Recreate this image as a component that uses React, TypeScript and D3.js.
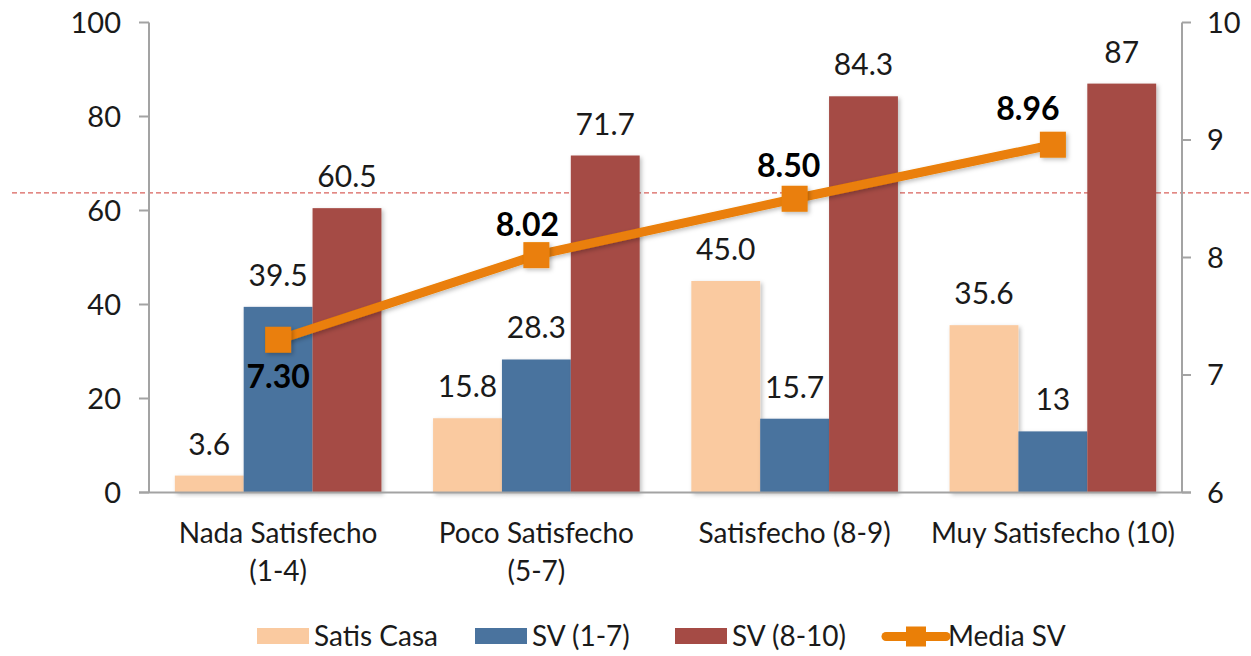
import React from "react";
import * as d3 from "d3";

const categories = [
  ["Nada Satisfecho", "(1-4)"],
  ["Poco Satisfecho", "(5-7)"],
  ["Satisfecho (8-9)"],
  ["Muy Satisfecho (10)"],
];
const seriesNames = ["Satis Casa", "SV (1-7)", "SV (8-10)"];
const satisCasa = [3.6, 15.8, 45.0, 35.6];
const sv17 = [39.5, 28.3, 15.7, 13];
const sv810 = [60.5, 71.7, 84.3, 87];
const mediaSV = [7.3, 8.02, 8.5, 8.96];
const lineName = "Media SV";
const leftTicks = [0, 20, 40, 60, 80, 100];
const rightTicks = [6, 7, 8, 9, 10];
const referenceValue = 8.55;

const COLORS = ["#FACAA0", "#4A739E", "#A54B45"];
const ORANGE = "#EA7F07";
const FONT = "Lato, 'Open Sans', sans-serif";

const W = 1251;
const H = 656;
const X0 = 149;
const X1 = 1182;
const Y0 = 492.5;
const Y1 = 22.5;

export default function App() {
  const keys = categories.map((_, i) => String(i));
  const x = d3.scaleBand<string>().domain(keys).range([X0, X1]).paddingInner(0.2).paddingOuter(0.1);
  const step = x.step();
  const xs = d3.scaleBand<string>().domain(seriesNames).range([0, x.bandwidth()]);
  const yL = d3.scaleLinear().domain([0, 100]).range([Y0, Y1]);
  const yR = d3.scaleLinear().domain([6, 10]).range([Y0, Y1]);
  const series = [satisCasa, sv17, sv810];
  const fmt = [d3.format(".1f"), (v: number) => String(v), (v: number) => String(v)];
  const center = (i: number) => X0 + step * (i + 0.5);
  const linePts: [number, number][] = mediaSV.map((v, i) => [center(i), yR(v)]);
  const lineGen = d3.line();
  const labelOff = [
    [0, 48],
    [-9, -19],
    [-6, -22],
    [-25, -25],
  ];
  const axisColor = "#A3A3A3";
  const txt = "#1a1a1a";

  const legendItems = [
    { x: 257, text: seriesNames[0], color: COLORS[0], tx: 314 },
    { x: 475, text: seriesNames[1], color: COLORS[1], tx: 532 },
    { x: 675, text: seriesNames[2], color: COLORS[2], tx: 732 },
  ];

  return (
    <svg
      width={W}
      height={H}
      style={{ position: "absolute", left: 0, top: 0, background: "#fff" }}
      fontFamily={FONT}
    >
      <defs>
        <filter id="sh" x="-20%" y="-20%" width="150%" height="150%">
          <feDropShadow dx="2" dy="2" stdDeviation="2" floodColor="#000" floodOpacity="0.25" />
        </filter>
      </defs>
      <rect width={W} height={H} fill="#fff" />

      <line x1={12} x2={W} y1={yR(referenceValue)} y2={yR(referenceValue)} stroke="#D9625C" strokeWidth={1.2} strokeDasharray="5,3" />

      {series.map((vals, s) =>
        vals.map((v, i) => {
          const bx = (x(String(i)) as number) + (xs(seriesNames[s]) as number);
          return (
            <rect
              key={`b${s}-${i}`}
              x={bx}
              y={yL(v)}
              width={xs.bandwidth()}
              height={Y0 - yL(v)}
              fill={COLORS[s]}
              filter="url(#sh)"
            />
          );
        })
      )}

      <line x1={X0} x2={X0} y1={Y1} y2={Y0} stroke={axisColor} strokeWidth={2} />
      <line x1={X1} x2={X1} y1={Y1} y2={Y0} stroke={axisColor} strokeWidth={2} />
      <line x1={X0 - 10} x2={X1 + 9} y1={Y0} y2={Y0} stroke={axisColor} strokeWidth={2} />
      {leftTicks.map((t) => (
        <g key={`lt${t}`}>
          <line x1={X0 - 10} x2={X0} y1={yL(t)} y2={yL(t)} stroke={axisColor} strokeWidth={2} />
          <text x={121} y={yL(t)} dy="0.36em" textAnchor="end" fontSize={29} fill={txt}>
            {t}
          </text>
        </g>
      ))}
      {rightTicks.map((t) => (
        <g key={`rt${t}`}>
          <line x1={X1} x2={X1 + 9} y1={yR(t)} y2={yR(t)} stroke={axisColor} strokeWidth={2} />
          <text x={1207} y={yR(t)} dy="0.36em" textAnchor="start" fontSize={29} fill={txt}>
            {t}
          </text>
        </g>
      ))}

      {categories.map((lines, i) => (
        <text key={`c${i}`} x={center(i)} y={543} textAnchor="middle" fontSize={28} fill={txt}>
          {lines.map((l, j) => (
            <tspan key={j} x={center(i)} dy={j === 0 ? 0 : 38}>
              {l}
            </tspan>
          ))}
        </text>
      ))}

      {series.map((vals, s) =>
        vals.map((v, i) => {
          const bx = (x(String(i)) as number) + (xs(seriesNames[s]) as number) + xs.bandwidth() / 2;
          return (
            <text key={`bl${s}-${i}`} x={bx} y={yL(v) - 21} textAnchor="middle" fontSize={30} fill={txt}>
              {fmt[s](v)}
            </text>
          );
        })
      )}

      <path d={lineGen(linePts) || ""} fill="none" stroke={ORANGE} strokeWidth={9} filter="url(#sh)" />
      {linePts.map(([px, py], i) => (
        <rect key={`m${i}`} x={px - 13} y={py - 13} width={26} height={26} fill={ORANGE} filter="url(#sh)" />
      ))}
      {linePts.map(([px, py], i) => (
        <text
          key={`ml${i}`}
          x={px + labelOff[i][0]}
          y={py + labelOff[i][1]}
          textAnchor="middle"
          fontSize={32}
          fontWeight="bold"
          fill="#000"
        >
          {d3.format(".2f")(mediaSV[i])}
        </text>
      ))}

      {legendItems.map((it) => (
        <g key={it.text}>
          <rect x={it.x} y={628} width={52} height={16} fill={it.color} />
          <text x={it.tx} y={636} dy="0.36em" fontSize={28} fill={txt}>
            {it.text}
          </text>
        </g>
      ))}
      <line x1={886} x2={946} y1={636.5} y2={636.5} stroke={ORANGE} strokeWidth={9} strokeLinecap="round" />
      <rect x={906} y={626.5} width={20} height={20} fill={ORANGE} />
      <text x={948} y={636} dy="0.36em" fontSize={28} fill={txt}>
        {lineName}
      </text>
    </svg>
  );
}
